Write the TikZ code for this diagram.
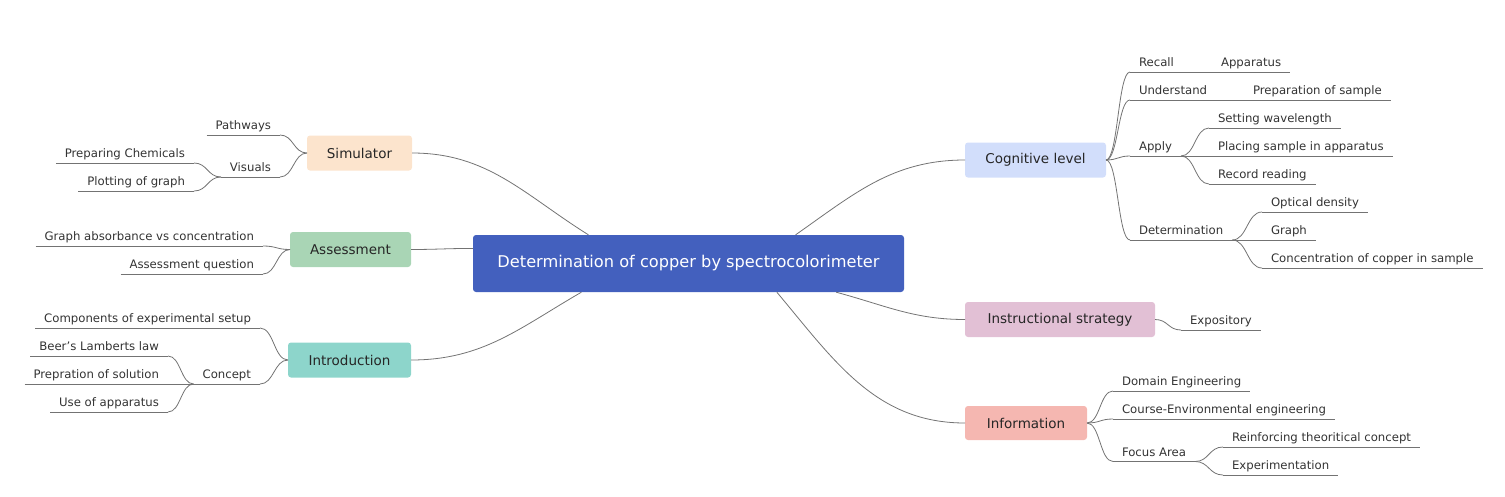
\documentclass[tikz,border=0pt]{standalone}
\usepackage{fontspec}
\setmainfont{DejaVu Sans}
\usepackage{xcolor}
\usetikzlibrary{calc}
\definecolor{rootblue}{RGB}{67,96,190}
\definecolor{simpeach}{RGB}{252,228,205}
\definecolor{assgreen}{RGB}{169,213,181}
\definecolor{introteal}{RGB}{141,213,203}
\definecolor{cogblue}{RGB}{210,222,251}
\definecolor{instrpink}{RGB}{226,192,213}
\definecolor{infored}{RGB}{245,183,177}
\newcommand{\leaffont}{\fontsize{11.7}{13}\selectfont}
\tikzset{
	link/.style={draw=black!55, line width=0.8pt},
	curvy/.style={
			to path={let \p1=(\tikztostart), \p2=(\tikztotarget) in
					.. controls ({(\x1+\x2)/2},\y1) and ({(\x1+\x2)/2},\y2) .. (\tikztotarget)}
		},
	topic/.style={rounded corners=3pt, minimum height=35pt, outer sep=0pt,
			font=\fontsize{13.5}{15}\selectfont, text=black!85},
	leaf/.style={font=\leaffont, text=black!80, outer sep=0pt,
			inner xsep=9pt, inner ysep=3pt, text height=8.5pt, text depth=2.5pt,
			append after command={(\tikzlastnode.south west) edge[link] (\tikzlastnode.south east)}}
}

\begin{document}
\begin{tikzpicture}[x=1pt, y=-1pt]
		\useasboundingbox (0, 0) rectangle (1505, 496);

		\node[fill=rootblue, rounded corners=3pt, minimum width=431pt, minimum height=57pt,
			text=white, font=\fontsize{16.2}{18}\selectfont]	(root)	at (688.5, 263.5)	{Determination of copper by spectrocolorimeter};

		% left side
		\node[topic, fill=simpeach, minimum width=105pt, anchor=east]	(sim)	at (412, 153)	{Simulator};
		\node[topic, fill=assgreen, minimum width=121pt, anchor=east]	(assess)	at (411, 249.5)	{Assessment};
		\node[topic, fill=introteal, minimum width=123pt, anchor=east]	(intro)	at (411, 360)	{Introduction};

		\node[leaf, anchor=south east]	(pathways)	at (280, 135)	{Pathways};
		\node[leaf, anchor=south east]	(visuals)	at (280, 177)	{Visuals};
		\node[leaf, anchor=south east]	(prepchem)	at (194, 163)	{Preparing Chemicals};
		\node[leaf, anchor=south east]	(plotgraph)	at (194, 191)	{Plotting of graph};

		\node[leaf, anchor=south east]	(graphabs)	at (263, 246)	{Graph absorbance vs concentration};
		\node[leaf, anchor=south east]	(assq)	at (263, 274)	{Assessment question};

		\node[leaf, anchor=south east]	(components)	at (260, 328)	{Components of experimental setup};
		\node[leaf, anchor=south east]	(concept)	at (260, 384)	{Concept};
		\node[leaf, anchor=south east]	(beer)	at (168, 356)	{Beer's Lamberts law};
		\node[leaf, anchor=south east]	(prepsol)	at (168, 384)	{Prepration of solution};
		\node[leaf, anchor=south east]	(useapp)	at (168, 412)	{Use of apparatus};

		% right side
		\node[topic, fill=cogblue, minimum width=141pt, anchor=west]	(cog)	at (965, 160)	{Cognitive level};
		\node[topic, fill=instrpink, minimum width=190pt, anchor=west]	(instr)	at (965, 319.5)	{Instructional strategy};
		\node[topic, fill=infored, minimum width=122pt, minimum height=34pt, anchor=west]	(info)	at (965, 423)	{Information};

		\node[leaf, anchor=south west]	(recall)	at (1130, 72)	{Recall};
		\node[leaf, anchor=south west]	(apparatus)	at (1212, 72)	{Apparatus};
		\node[leaf, anchor=south west]	(understand)	at (1130, 100)	{Understand};
		\node[leaf, anchor=south west]	(prepsample)	at (1244, 100)	{Preparation of sample};
		\node[leaf, anchor=south west]	(apply)	at (1130, 156)	{Apply};
		\node[leaf, anchor=south west]	(setwave)	at (1209, 128)	{Setting wavelength};
		\node[leaf, anchor=south west]	(placing)	at (1209, 156)	{Placing sample in apparatus};
		\node[leaf, anchor=south west]	(record)	at (1209, 184)	{Record reading};
		\node[leaf, anchor=south west]	(determ)	at (1130, 240)	{Determination};
		\node[leaf, anchor=south west]	(optical)	at (1262, 212)	{Optical density};
		\node[leaf, anchor=south west]	(graph)	at (1262, 240)	{Graph};
		\node[leaf, anchor=south west]	(conc)	at (1262, 268)	{Concentration of copper in sample};

		\node[leaf, anchor=south west]	(expository)	at (1181, 330)	{Expository};

		\node[leaf, anchor=south west]	(domain)	at (1113, 391)	{Domain Engineering};
		\node[leaf, anchor=south west]	(course)	at (1113, 419)	{Course-Environmental engineering};
		\node[leaf, anchor=south west]	(focus)	at (1113, 461.5)	{Focus Area};
		\node[leaf, anchor=south west]	(reinforce)	at (1223, 447)	{Reinforcing theoritical concept};
		\node[leaf, anchor=south west]	(experiment)	at (1223, 475)	{Experimentation};

		% main branches
		\draw[link]	(sim.east) to[out=0, in=148] (root.164);
		\draw[link]	(assess.east) to[out=0, in=180] (root.176);
		\draw[link]	(intro.east) to[out=0, in=210] (root.195);
		\draw[link]	(cog.west) to[out=180, in=35] (root.15);
		\draw[link]	(instr.west) to[out=180, in=-15] (root.349);
		\draw[link]	(info.west) to[out=180, in=-50] (root.342);

		% sub branches
		\foreach \a/\b in {pathways/sim, visuals/sim, graphabs/assess, assq/assess,
				components/intro, concept/intro} {
				\draw[link]	(\a.south east) to[curvy] (\b.west);
			}
		\foreach \a/\b in {prepchem/visuals, plotgraph/visuals, beer/concept, prepsol/concept, useapp/concept} {
				\draw[link]	(\a.south east) to[curvy] (\b.south west);
			}
		\foreach \a/\b in {cog/recall, cog/understand, cog/apply, cog/determ,
				instr/expository, info/domain, info/course, info/focus} {
				\draw[link]	(\a.east) to[curvy] (\b.south west);
			}
		\foreach \a/\b in {recall/apparatus, understand/prepsample, apply/setwave, apply/placing, apply/record,
				determ/optical, determ/graph, determ/conc, focus/reinforce, focus/experiment} {
				\draw[link]	(\a.south east) to[curvy] (\b.south west);
			}
	\end{tikzpicture}
\end{document}
